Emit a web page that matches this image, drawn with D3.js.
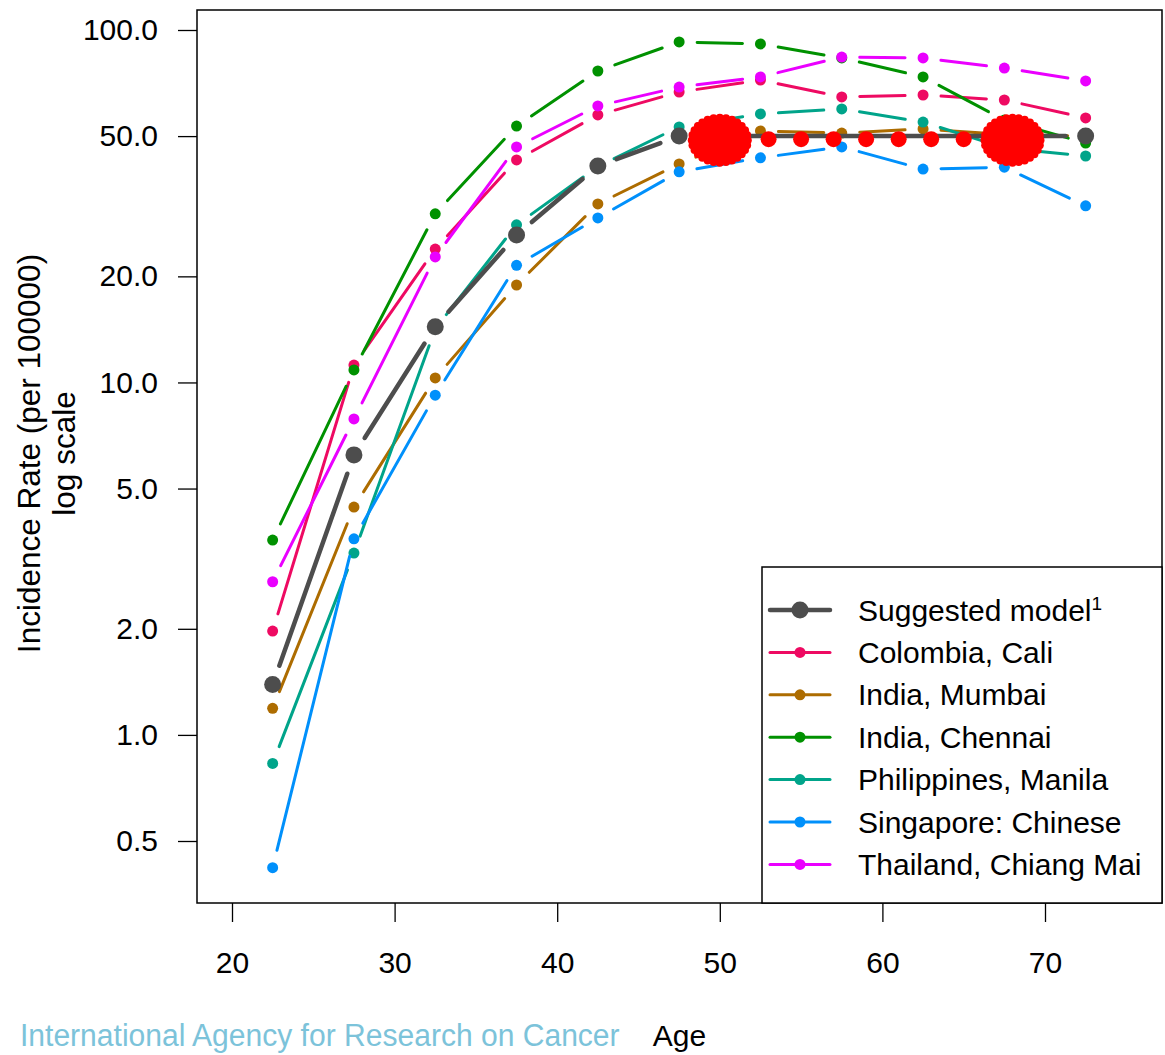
<!DOCTYPE html>
<html>
<head>
<meta charset="utf-8">
<script src="https://cdn.jsdelivr.net/npm/d3@7"></script>
<style>
  body { margin: 0; background: #fff; }
  svg { display: block; }
  text { font-family: "Liberation Sans", Arial, sans-serif; }
</style>
</head>
<body>
<svg id="chart" width="1165" height="1055"></svg>
<script>
// age group midpoints
const ages = [22.5, 27.5, 32.5, 37.5, 42.5, 47.5, 52.5, 57.5, 62.5, 67.5, 72.5];

// incidence per 100000
const colombiaCali = [1.97, 11.2, 23.9, 42.8, 57.4, 66.7, 72.1, 64.6, 65.4, 63.3, 56.3];
const indiaMumbai = [1.19, 4.43, 10.3, 18.9, 32.1, 41.7, 51.7, 51.0, 52.4, 50.5, 50.0];
const indiaChennai = [3.57, 10.85, 30.1, 53.4, 76.5, 92.5, 91.3, 83.3, 73.6, 55.5, 47.8];
const philippinesManila = [0.83, 3.28, 14.2, 28.0, 41.0, 53.1, 57.8, 59.7, 54.8, 46.3, 43.9];
const singaporeChinese = [0.42, 3.6, 9.2, 21.5, 29.3, 39.6, 43.4, 46.6, 40.3, 40.8, 31.7];
const thailandChiangMai = [2.72, 7.88, 22.7, 46.6, 60.9, 68.9, 73.6, 83.8, 83.3, 78.0, 71.7];

// suggested model: rising part then flat at 50
const modelAges = [22.5, 27.5, 32.5, 37.5, 42.5, 47.5, 72.5];
const modelValues = [1.39, 6.23, 14.4, 26.2, 41.1, 50, 50];

// red markers on the plateau
const plateauAges = [53, 55, 57, 59, 61, 63, 65];
const plateauValue = 49;
const blobAges = [50, 68];
const blobValue = 48.7;

const xTicks = [20, 30, 40, 50, 60, 70];
const yTicks = [0.5, 1, 2, 5, 10, 20, 50, 100];

const seriesNames = ['Colombia, Cali', 'India, Mumbai', 'India, Chennai',
  'Philippines, Manila', 'Singapore: Chinese', 'Thailand, Chiang Mai'];
const seriesValues = [colombiaCali, indiaMumbai, indiaChennai,
  philippinesManila, singaporeChinese, thailandChiangMai];
const seriesColors = ['#ee0a62', '#ad6c00', '#009100', '#00a48a', '#0090fb', '#ea00ff'];
const modelColor = '#4d4d4d';

const box = {left: 197, top: 10, right: 1162, bottom: 903};

const svg = d3.select('#chart');

const x = d3.scaleLinear().domain([20, 70]).range([232, 1045]);
const y = d3.scaleLog().domain([0.5, 100]).range([841, 30]);

// lines like R type="b": segments stop short of the points
function gappedSegments(xs, ys, gap) {
  const segs = [];
  for (let i = 0; i < xs.length - 1; i++) {
    const x1 = x(xs[i]), y1 = y(ys[i]), x2 = x(xs[i + 1]), y2 = y(ys[i + 1]);
    const len = Math.hypot(x2 - x1, y2 - y1);
    if (len <= 2 * gap) continue;
    const ux = (x2 - x1) / len, uy = (y2 - y1) / len;
    segs.push([x1 + ux * gap, y1 + uy * gap, x2 - ux * gap, y2 - uy * gap]);
  }
  return segs;
}

function drawSeries(xs, ys, color, lw, r, gap) {
  const g = svg.append('g');
  g.selectAll('line')
    .data(gappedSegments(xs, ys, gap))
    .enter().append('line')
    .attr('x1', d => d[0]).attr('y1', d => d[1])
    .attr('x2', d => d[2]).attr('y2', d => d[3])
    .attr('stroke', color)
    .attr('stroke-width', lw)
    .attr('stroke-linecap', 'round');
  g.selectAll('circle')
    .data(xs.map((a, i) => [a, ys[i]]))
    .enter().append('circle')
    .attr('cx', d => x(d[0]))
    .attr('cy', d => y(d[1]))
    .attr('r', r)
    .attr('fill', color);
}

seriesValues.forEach((vals, i) => drawSeries(ages, vals, seriesColors[i], 3, 5.5, 18));
drawSeries(modelAges, modelValues, modelColor, 4.5, 8.5, 20);

// red plateau dots
svg.append('g').selectAll('circle')
  .data(plateauAges)
  .enter().append('circle')
  .attr('cx', d => x(d))
  .attr('cy', y(plateauValue))
  .attr('r', 8)
  .attr('fill', '#ff0000');

// big scalloped red blobs
blobAges.forEach(a => {
  const cx = x(a), cy = y(blobValue);
  const g = svg.append('g').attr('fill', '#ff0000');
  g.append('ellipse').attr('cx', cx).attr('cy', cy).attr('rx', 28).attr('ry', 23);
  g.selectAll('circle')
    .data(d3.range(28))
    .enter().append('circle')
    .attr('cx', k => cx + 28 * Math.cos(k / 28 * 2 * Math.PI))
    .attr('cy', k => cy + 22.5 * Math.sin(k / 28 * 2 * Math.PI))
    .attr('r', 4);
});

// plot frame
svg.append('rect')
  .attr('x', box.left).attr('y', box.top)
  .attr('width', box.right - box.left).attr('height', box.bottom - box.top)
  .attr('fill', 'none').attr('stroke', '#000').attr('stroke-width', 1.5);

// axes
const yAxis = d3.axisLeft(y).tickValues(yTicks).tickFormat(d3.format('.1f'))
  .tickSize(19).tickPadding(20);
const gy = svg.append('g').attr('transform', `translate(${box.left},0)`).call(yAxis);

const xAxis = d3.axisBottom(x).tickValues(xTicks).tickFormat(d3.format('d'))
  .tickSize(19).tickPadding(30);
const gx = svg.append('g').attr('transform', `translate(0,${box.bottom})`).call(xAxis);

[gx, gy].forEach(g => {
  g.select('.domain').remove();
  g.selectAll('.tick line').attr('stroke', '#000').attr('stroke-width', 1.3);
  g.selectAll('.tick text')
    .attr('fill', '#000')
    .style('font-family', '"Liberation Sans", Arial, sans-serif')
    .style('font-size', '30px');
});

// axis titles
const yTitle = svg.append('text')
  .attr('transform', `translate(29,${(box.top + box.bottom) / 2 - 3}) rotate(-90)`)
  .attr('text-anchor', 'middle')
  .style('font-size', '31.5px');
yTitle.append('tspan').attr('x', 0).attr('dy', '0.35em').text('Incidence Rate (per 100000)');
yTitle.append('tspan').attr('x', 0).attr('dy', '1.1em').text('log scale');

svg.append('text')
  .attr('x', (box.left + box.right) / 2)
  .attr('y', 1046)
  .attr('text-anchor', 'middle')
  .style('font-size', '30px')
  .text('Age');

// condensed light-blue credit line, squeezed to its width in the picture
const credit = svg.append('text')
  .attr('fill', '#7cc3da')
  .style('font-size', '31px')
  .text('International Agency for Research on Cancer');
const creditLen = credit.node().getComputedTextLength();
credit.attr('transform', `translate(20,1046) scale(${600 / creditLen},1)`);

// legend
const legend = svg.append('g');
legend.append('rect')
  .attr('x', 762).attr('y', 567)
  .attr('width', box.right - 762).attr('height', box.bottom - 567)
  .attr('fill', '#fff').attr('stroke', '#000').attr('stroke-width', 1.5);

const legendItems = [{name: 'Suggested model', color: modelColor, lw: 4.5, r: 8.5}]
  .concat(seriesNames.map((n, i) => ({name: n, color: seriesColors[i], lw: 3, r: 5.5})));

const rows = legend.selectAll('g.row')
  .data(legendItems)
  .enter().append('g')
  .attr('class', 'row')
  .attr('transform', (d, i) => `translate(0,${610 + i * 42.4})`);

rows.append('line')
  .attr('x1', 770).attr('x2', 830)
  .attr('stroke', d => d.color)
  .attr('stroke-width', d => d.lw)
  .attr('stroke-linecap', 'round');
rows.append('circle')
  .attr('cx', 800).attr('r', d => d.r)
  .attr('fill', d => d.color);
const lt = rows.append('text')
  .attr('x', 858).attr('dy', '0.35em')
  .style('font-size', '30px')
  .text(d => d.name);
lt.filter((d, i) => i === 0).append('tspan')
  .attr('dy', '-0.55em')
  .style('font-size', '19px')
  .text('1');
</script>
</body>
</html>
